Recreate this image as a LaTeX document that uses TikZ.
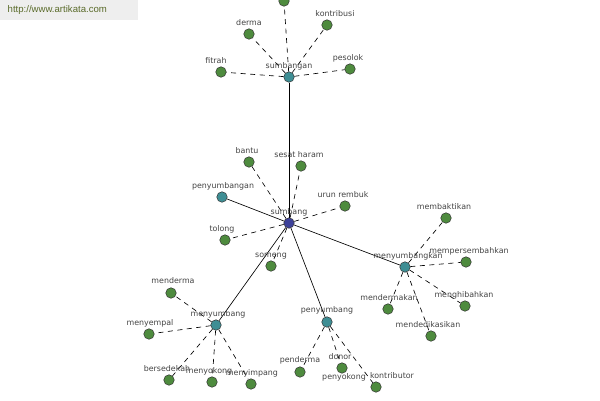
\documentclass[tikz,border=0pt]{standalone}
\usepackage{fontspec}
\setmainfont{DejaVu Sans}
\newfontfamily\wmfont{Liberation Sans}
\definecolor{leafgreen}{HTML}{4E8B3E}
\definecolor{hubteal}{HTML}{3E8E94}
\definecolor{rootblue}{HTML}{3D4199}
\definecolor{labelgrey}{HTML}{444444}
\definecolor{wmgrey}{HTML}{EEEEEE}
\definecolor{wmtext}{HTML}{5A6B2A}
\tikzset{
  x=1pt, y=-1pt,
  leaf/.style={circle, draw=black!80, line width=0.5pt, fill=leafgreen, minimum size=10.5pt, inner sep=0pt},
  hub/.style={circle, draw=black!80, line width=0.5pt, fill=hubteal, minimum size=10.5pt, inner sep=0pt},
  root/.style={circle, draw=black!80, line width=0.5pt, fill=rootblue, minimum size=10.5pt, inner sep=0pt},
  lbl/.style={font=\fontsize{7.9}{8}\selectfont, text=labelgrey, inner sep=0pt},
  strong/.style={draw=black, line width=0.65pt},
  weak/.style={draw=black, line width=0.65pt, dash pattern=on 5pt off 4.5pt},
}
\begin{document}
\begin{tikzpicture}
\useasboundingbox (0,0) rectangle (600,400);
\fill[white] (0,0) rectangle (600,400);
% watermark
\fill[wmgrey] (0,0) rectangle (138,20);
\node[font=\wmfont\fontsize{9.6}{10}\selectfont, text=wmtext, anchor=west, inner sep=0pt] (wm) at (7.5,10.5) {http://www.artikata.com};

% coordinates
\coordinate (cSumbangan) at (289,77);
\coordinate (cTop) at (284,1);
\coordinate (cDerma) at (249,34);
\coordinate (cKontribusi) at (327,25);
\coordinate (cFitrah) at (221,72);
\coordinate (cPesolok) at (350,69);
\coordinate (cSumbang) at (289,223);
\coordinate (cBantu) at (249,162);
\coordinate (cSesat) at (301,166);
\coordinate (cPenyumbangan) at (222,197);
\coordinate (cUrun) at (345,206);
\coordinate (cTolong) at (225,240);
\coordinate (cSomeng) at (271,266);
\coordinate (cMenyumbangkan) at (405,267);
\coordinate (cMembaktikan) at (446,218);
\coordinate (cMempersembahkan) at (466,262);
\coordinate (cMenghibahkan) at (465,306);
\coordinate (cMendermakan) at (388,309);
\coordinate (cMendedikasikan) at (431,336);
\coordinate (cMenyumbang) at (216,325);
\coordinate (cMenderma) at (171,293);
\coordinate (cMenyempal) at (149,334);
\coordinate (cBersedekah) at (169,380);
\coordinate (cMenyokong) at (212,382);
\coordinate (cMenyimpang) at (251,384);
\coordinate (cPenyumbang) at (327,322);
\coordinate (cPenderma) at (300,372);
\coordinate (cDonor) at (342,368);
\coordinate (cKontributor) at (376,387);

% nodes
\node[hub] (sumbangan) at (cSumbangan) {};
\node[leaf] (top) at (cTop) {};
\node[leaf] (derma) at (cDerma) {};
\node[leaf] (kontribusi) at (cKontribusi) {};
\node[leaf] (fitrah) at (cFitrah) {};
\node[leaf] (pesolok) at (cPesolok) {};
\node[root] (sumbang) at (cSumbang) {};
\node[leaf] (bantu) at (cBantu) {};
\node[leaf] (sesat) at (cSesat) {};
\node[hub] (penyumbangan) at (cPenyumbangan) {};
\node[leaf] (urun) at (cUrun) {};
\node[leaf] (tolong) at (cTolong) {};
\node[leaf] (someng) at (cSomeng) {};
\node[hub] (menyumbangkan) at (cMenyumbangkan) {};
\node[leaf] (membaktikan) at (cMembaktikan) {};
\node[leaf] (mempersembahkan) at (cMempersembahkan) {};
\node[leaf] (menghibahkan) at (cMenghibahkan) {};
\node[leaf] (mendermakan) at (cMendermakan) {};
\node[leaf] (mendedikasikan) at (cMendedikasikan) {};
\node[hub] (menyumbang) at (cMenyumbang) {};
\node[leaf] (menderma) at (cMenderma) {};
\node[leaf] (menyempal) at (cMenyempal) {};
\node[leaf] (bersedekah) at (cBersedekah) {};
\node[leaf] (menyokong) at (cMenyokong) {};
\node[leaf] (menyimpang) at (cMenyimpang) {};
\node[hub] (penyumbang) at (cPenyumbang) {};
\node[leaf] (penderma) at (cPenderma) {};
\node[leaf] (donor) at (cDonor) {};
\node[leaf] (kontributor) at (cKontributor) {};

% edges
\path[strong] (sumbangan) -- (sumbang);
\path[strong] (sumbang) -- (penyumbangan);
\path[strong] (sumbang) -- (menyumbangkan);
\path[strong] (sumbang) -- (menyumbang);
\path[strong] (sumbang) -- (penyumbang);
\foreach \a/\b in {sumbangan/top, sumbangan/derma, sumbangan/kontribusi, sumbangan/fitrah, sumbangan/pesolok,
  sumbang/bantu, sumbang/sesat, sumbang/urun, sumbang/tolong, sumbang/someng,
  menyumbangkan/membaktikan, menyumbangkan/mempersembahkan, menyumbangkan/menghibahkan, menyumbangkan/mendermakan, menyumbangkan/mendedikasikan,
  menyumbang/menderma, menyumbang/menyempal, menyumbang/bersedekah, menyumbang/menyokong, menyumbang/menyimpang,
  penyumbang/penderma, penyumbang/donor, penyumbang/kontributor}
  {\path[weak] (\a) -- (\b);}

% labels
\node[lbl] (lSumbangan) at (289,66) {sumbangan};
\node[lbl] (lDerma) at (249,23) {derma};
\node[lbl] (lKontribusi) at (335,14) {kontribusi};
\node[lbl] (lFitrah) at (216,61) {fitrah};
\node[lbl] (lPesolok) at (348,58) {pesolok};
\node[lbl] (lSumbang) at (289,212) {sumbang};
\node[lbl] (lBantu) at (247,151) {bantu};
\node[lbl] (lSesat) at (299,155) {sesat haram};
\node[lbl] (lPenyumbangan) at (223,186) {penyumbangan};
\node[lbl] (lUrun) at (343,195) {urun rembuk};
\node[lbl] (lTolong) at (222,229) {tolong};
\node[lbl] (lSomeng) at (271,256) {someng};
\node[lbl] (lMenyumbangkan) at (408,256) {menyumbangkan};
\node[lbl] (lMembaktikan) at (444,207) {membaktikan};
\node[lbl] (lMempersembahkan) at (469,251) {mempersembahkan};
\node[lbl] (lMenghibahkan) at (464,295) {menghibahkan};
\node[lbl] (lMendermakan) at (389,298) {mendermakan};
\node[lbl] (lMendedikasikan) at (428,325) {mendedikasikan};
\node[lbl] (lMenyumbang) at (218,314) {menyumbang};
\node[lbl] (lMenderma) at (173,281) {menderma};
\node[lbl] (lMenyempal) at (150,323) {menyempal};
\node[lbl] (lBersedekah) at (167,369) {bersedekah};
\node[lbl] (lMenyokong) at (209,371) {menyokong};
\node[lbl] (lMenyimpang) at (252,373) {menyimpang};
\node[lbl] (lPenyumbang) at (327,310) {penyumbang};
\node[lbl] (lPenderma) at (300,360) {penderma};
\node[lbl] (lDonor) at (340,357) {donor};
\node[lbl] (lPenyokong) at (344,377) {penyokong};
\node[lbl] (lKontributor) at (392,376) {kontributor};
\end{tikzpicture}
\end{document}
